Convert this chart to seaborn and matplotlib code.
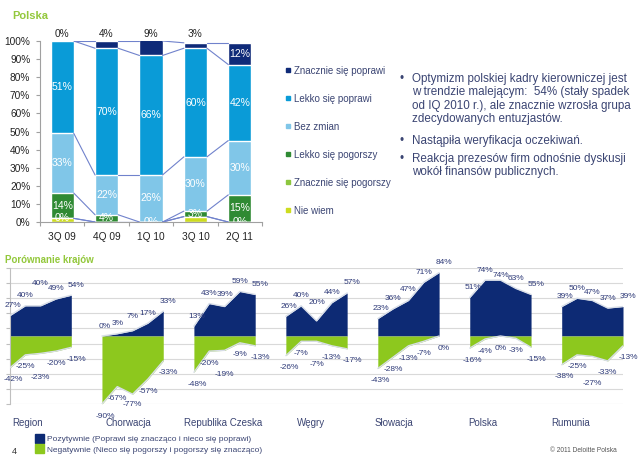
import numpy as np
import pandas as pd
import matplotlib.pyplot as plt
import seaborn as sns
from matplotlib.lines import Line2D
from matplotlib.patches import Patch

# ---- data: top chart (Polska, stacked 100%) ----
quarters = ['3Q 09', '4Q 09', '1Q 10', '3Q 10', '2Q 11']
series_names = ['Nie wiem', 'Znacznie się pogorszy', 'Lekko się pogorszy',
                'Bez zmian', 'Lekko się poprawi', 'Znacznie się poprawi']
nie_wiem = [2, 0, 0, 3, 0]
znacznie_pogorszy = [0, 0, 0, 0, 0]
lekko_pogorszy = [14, 4, 0, 3, 15]
bez_zmian = [33, 22, 26, 30, 30]
lekko_poprawi = [51, 70, 66, 60, 42]
znacznie_poprawi = [0, 4, 9, 3, 12]

# ---- data: bottom chart (country comparison) ----
countries = ['Region', 'Chorwacja', 'Republika Czeska', 'Węgry', 'Słowacja', 'Polska', 'Rumunia']
positive = [[27, 40, 40, 49, 54], [0, 3, 7, 17, 33], [13, 43, 39, 59, 55], [26, 40, 20, 44, 57],
            [23, 36, 47, 71, 84], [51, 74, 74, 63, 55], [39, 50, 47, 37, 39]]
negative = [[-42, -25, -23, -20, -15], [-90, -67, -77, -57, -33], [-48, -20, -19, -9, -13],
            [-26, -7, -7, -13, -17], [-43, -28, -13, -7, 0], [-16, -4, 0, -3, -15],
            [-38, -25, -27, -33, -13]]

bullets = [
    'Optymizm polskiej kadry kierowniczej jest\nw trendzie malejącym:  54% (stały spadek\n'
    'od IQ 2010 r.), ale znacznie wzrosła grupa\nzdecydowanych entuzjastów.',
    'Nastąpiła weryfikacja oczekiwań.',
    'Reakcja prezesów firm odnośnie dyskusji\nwokół finansów publicznych.',
]

sns.set_theme(style='white')
plt.rcParams['font.family'] = ['Liberation Sans', 'DejaVu Sans']

colors = ['#cddc1f', '#8cc63e', '#2f8a33', '#80c6e8', '#0a9bd7', '#0f2a78']
green_title = '#93c83c'
txt = '#3b4573'
W, H = 640, 458

fig = plt.figure(figsize=(6.4, 4.58), dpi=100)
fig.patch.set_facecolor('white')

def fx(px):
    return px / W

def fy(py):
    return 1 - py / H

# ================= top chart =================
ax1 = fig.add_axes([fx(40), fy(222), fx(222), fy(41) - fy(222)])
values = np.array([nie_wiem, znacznie_pogorszy, lekko_pogorszy, bez_zmian, lekko_poprawi, znacznie_poprawi])
stack = np.cumsum(values, axis=0)
bw = 0.52

for k in reversed(range(len(series_names))):
    sns.barplot(x=quarters, y=stack[k], order=quarters, color=colors[k], width=bw,
                saturation=1, ax=ax1, zorder=2)

# series lines connecting segment tops
for k in range(len(series_names)):
    for i in range(len(quarters) - 1):
        ax1.plot([i + bw / 2, i + 1 - bw / 2], [min(stack[k][i], 100), min(stack[k][i + 1], 100)],
                 color='#7082cc', lw=0.8, zorder=3)

for k in range(1, len(series_names)):
    for i, v in enumerate(values[k]):
        bottom = stack[k][i] - v
        if k == 5:
            if v < 10:
                ax1.text(i, 101.2, f'{v}%', ha='center', va='bottom', fontsize=7.3, color='#222222',
                         clip_on=False)
            else:
                ax1.text(i, bottom + v / 2, f'{v}%', ha='center', va='center', fontsize=7.5,
                         color='white', zorder=4)
        elif k == 1:
            if v == 0 and not (0 < lekko_pogorszy[i] < 6):
                ax1.text(i, bottom, '0%', ha='center', va='center', fontsize=7.5,
                         color='white', zorder=4, clip_on=True)
        elif v > 0:
            ax1.text(i, bottom + v / 2, f'{v}%', ha='center', va='center', fontsize=7.5,
                     color='white', zorder=4)

ax1.set_ylim(0, 100)
ax1.set_xlim(-0.5, 4.5)
ax1.set_yticks(range(0, 101, 10))
ax1.set_yticklabels([f'{v}%' for v in range(0, 101, 10)], fontsize=7.3, color='#222222')
ax1.set_xticks(range(len(quarters)))
ax1.set_xticklabels(quarters, fontsize=7.3, color='#222222')
ax1.set_xticks(np.arange(-0.5, 5, 1), minor=True)
ax1.tick_params(axis='y', which='major', length=3, width=0.8, color='#a0a0a0', pad=4, left=True)
ax1.tick_params(axis='x', which='major', length=0, pad=7)
ax1.tick_params(axis='x', which='minor', length=3, width=0.8, color='#a0a0a0', bottom=True)
for s in ['top', 'right']:
    ax1.spines[s].set_visible(False)
for s in ['left', 'bottom']:
    ax1.spines[s].set_color('#a0a0a0')
    ax1.spines[s].set_linewidth(0.8)
ax1.set_xlabel('')
ax1.set_ylabel('')

fig.text(fx(12), fy(16), 'Polska', fontsize=8, fontweight='bold', color=green_title, va='center')

# legend
handles = [Line2D([], [], marker='s', ls='', color=colors[k], markersize=3.2)
           for k in reversed(range(len(series_names)))]
fig.legend(handles, list(reversed(series_names)), loc='upper left',
           bbox_to_anchor=(fx(281), fy(61)), frameon=False, fontsize=7, labelcolor=txt,
           handlelength=0.5, handletextpad=0.3, labelspacing=1.85, borderpad=0)

# bullet text
bullet_y = [73, 135, 153]
for y, t in zip(bullet_y, bullets):
    fig.text(fx(400), fy(y), '•', fontsize=8.4, color=txt, va='top')
    fig.text(fx(412), fy(y), t, fontsize=8.4, color=txt, va='top', linespacing=1.16)

# ================= bottom chart =================
ax2 = fig.add_axes([fx(10), fy(404), fx(613), fy(268) - fy(404)])
navy = '#0d2a74'
lime = '#8dc81e'
lab = '#2e3a78'
pos_mid_rise = [22, 14, 12, 18, 11, 5, 8]
neg_mid_drop = [24, 10, 24, 23, 13, 13, 27]
for g in range(len(countries)):
    xs = np.arange(5) + 6 * g
    pos = positive[g]
    neg = negative[g]
    ax2.fill_between(xs, 0, pos, color=navy, lw=0, zorder=2)
    ax2.fill_between(xs, 0, neg, color=lime, lw=0, zorder=2)
    sns.lineplot(x=xs, y=pos, color='#d8dee8', lw=1.0, ax=ax2, zorder=3)
    sns.lineplot(x=xs, y=neg, color='#d8dee8', lw=1.0, ax=ax2, zorder=3)
    for j in range(5):
        dx = 3 if j == 0 else (5 if j == 4 else 0)
        rise = pos_mid_rise[g] if j == 2 else 10
        ax2.annotate(f'{pos[j]}%', (xs[j], pos[j]), xytext=(dx, rise), textcoords='offset pixels',
                     ha='center', va='center', fontsize=6, color=lab, zorder=5)
        drop = neg_mid_drop[g] if j == 2 else 12
        ax2.annotate(f'{neg[j]}%', (xs[j], neg[j]), xytext=(dx, -drop), textcoords='offset pixels',
                     ha='center', va='center', fontsize=6, color=lab, zorder=5,
                     annotation_clip=False)

ax2.set_xlim(0, 40)
ax2.set_ylim(-90, 90)
ax2.set_yticks(range(-90, 91, 20))
ax2.set_yticklabels([])
ax2.set_xticks([])
ax2.yaxis.grid(True, color='#d9d9d9', lw=0.8, zorder=0)
ax2.tick_params(axis='y', length=3, width=0.8, color='#bfbfbf', left=True)
for s in ['top', 'right', 'bottom']:
    ax2.spines[s].set_visible(False)
ax2.spines['left'].set_color('#bfbfbf')
ax2.spines['left'].set_linewidth(0.8)
ax2.set_xlabel('')
ax2.set_ylabel('')

fig.text(fx(5), fy(260), 'Porównanie krajów', fontsize=7, fontweight='bold', color=green_title,
         va='center')

name_x = [12, 106, 184, 297, 375, 468, 551]
for x, name in zip(name_x, countries):
    fig.text(fx(x), fy(423), name, fontsize=7, color=txt, va='center')

fig.legend([Patch(color=navy), Patch(color=lime)],
           ['Pozytywnie (Poprawi się znacząco i nieco się poprawi)',
            'Negatywnie (Nieco się pogorszy i pogorszy się znacząco)'],
           loc='upper left', bbox_to_anchor=(fx(31), fy(430)), frameon=False, fontsize=6,
           labelcolor=txt, handlelength=1.0, handleheight=1.2, handletextpad=0.4,
           labelspacing=0.15, borderpad=0)

fig.text(fx(12), fy(451), '4', fontsize=6.5, color='#333333', va='center')
fig.text(fx(617), fy(450), '© 2011 Deloitte Polska', fontsize=4.8, color='#555555',
         va='center', ha='right')

plt.savefig('out.png', dpi=100)
